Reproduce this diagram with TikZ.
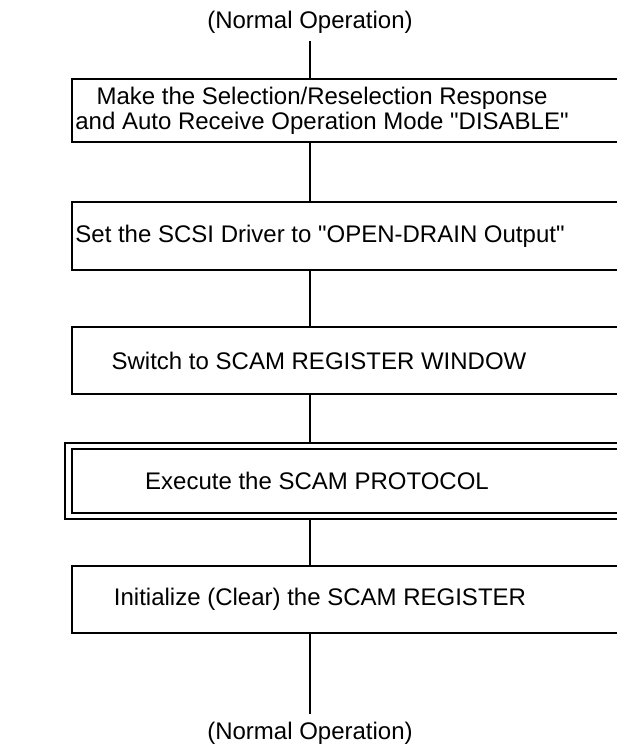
\documentclass[tikz,border=0pt]{standalone}
\usepackage{fontspec}
\setmainfont{Liberation Sans}
\usetikzlibrary{positioning}
\tikzset{
  stepbox/.style={draw, line width=1.5pt, minimum width=560pt, minimum height=#1, inner sep=0pt},
  outerbox/.style={draw, line width=2pt, minimum width=574pt, minimum height=#1, inner sep=0pt},
  steptext/.style={font=\fontsize{24}{25}\selectfont, align=center, inner sep=0pt},
  link/.style={line width=2.4pt}
}

\begin{document}
\begin{tikzpicture}[x=1pt, y=-1pt]
  \useasboundingbox (0,0) rectangle (617,748);

  % ---- Entry / exit ----------------------------------------------------------
  \node[steptext] (nt) at (310,22) {(Normal Operation)};
  \node[steptext] (nb) at (310,733) {(Normal Operation)};

  % ---- Boxes -----------------------------------------------------------------
  \node[stepbox=63pt] (b1) at (352,110.5) {};
  \node[stepbox=68pt] (b2) at (352,236) {};
  \node[stepbox=67pt] (b3) at (352,360.5) {};
  \node[outerbox=76pt] (b4o) at (352,481) {};
  \node[stepbox=64pt] (b4) at (352,481) {};
  \node[stepbox=67pt] (b5) at (352,599.5) {};

  % ---- Box texts -------------------------------------------------------------
  \node[steptext] (t1) at (b1.center -| 322,0) {Make the Selection/Reselection Response\\and Auto Receive Operation Mode \textquotedbl DISABLE\textquotedbl};
  \node[steptext] (t2) at (b2.center -| 320,0) {Set the SCSI Driver to \textquotedbl OPEN-DRAIN Output\textquotedbl};
  \node[steptext] (t3) at (b3.center -| 319,0) {Switch to SCAM REGISTER WINDOW};
  \node[steptext] (t4) at (b4.center -| 317,0) {Execute the SCAM PROTOCOL};
  \node[steptext] (t5) at (b5.center -| 320,0) {Initialize (Clear) the SCAM REGISTER};

  % ---- Connectors ------------------------------------------------------------
  \draw[link, shorten <=8pt] (nt.south) -- (nt.south |- b1.north);
  \draw[link] (nt |- b1.south) -- (nt |- b2.north);
  \draw[link] (nt |- b2.south) -- (nt |- b3.north);
  \draw[link] (nt |- b3.south) -- (nt |- b4o.north);
  \draw[link] (nt |- b4o.south) -- (nt |- b5.north);
  \draw[link, shorten >=8pt] (nt |- b5.south) -- (nb.north);
\end{tikzpicture}
\end{document}
